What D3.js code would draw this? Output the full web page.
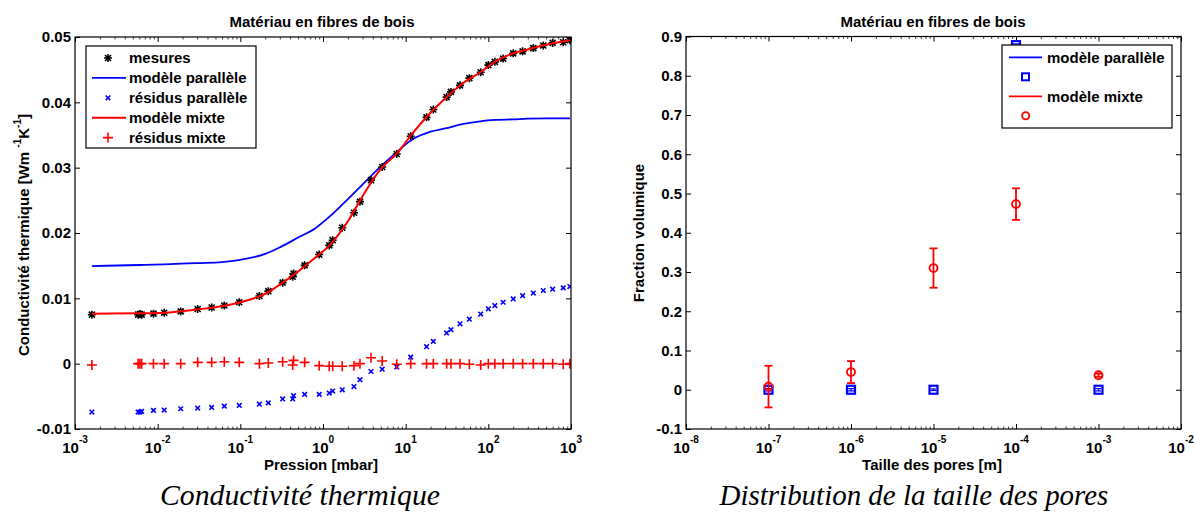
<!DOCTYPE html>
<html><head><meta charset="utf-8">
<script src="https://cdn.jsdelivr.net/npm/d3@7"></script>
<style>
body{margin:0;background:#fff}
svg{display:block}
text{font-family:"Liberation Sans",Arial,sans-serif;font-weight:bold;fill:#000}
</style>
</head><body>
<svg id="c" width="1195" height="513"></svg>
<script>
// ---------- Left chart data ----------
const pressure = [0.0016, 0.0058, 0.0061, 0.0064, 0.0089, 0.012, 0.019, 0.0305, 0.045, 0.064, 0.097, 0.17, 0.218, 0.325, 0.43, 0.44, 0.6, 0.9, 1.19, 1.31, 1.71, 2.37, 2.8, 3.81, 5.2, 7.8, 11.5, 17.9, 21.6, 31.3, 35.3, 45.4, 58.9, 80.8, 100, 120, 151, 200, 260, 350, 462, 600, 805, 970];
const measures = [0.0075, 0.0075, 0.0076, 0.0075, 0.00765, 0.0078, 0.0080, 0.00836, 0.0086, 0.0089, 0.0094, 0.01035, 0.0111, 0.0124, 0.0133, 0.0138, 0.01505, 0.0167, 0.0181, 0.0189, 0.0208, 0.0231, 0.0248, 0.0281, 0.0301, 0.0321, 0.0348, 0.0377, 0.0389, 0.0408, 0.0416, 0.0426, 0.0437, 0.0446, 0.0457, 0.0462, 0.0467, 0.0475, 0.0478, 0.0483, 0.0487, 0.0491, 0.0492, 0.0495];
const residusParallele = [-0.0074, -0.0074, -0.0074, -0.0073, -0.00715, -0.0071, -0.0069, -0.0068, -0.0067, -0.0065, -0.0064, -0.0062, -0.0060, -0.0054, -0.0054, -0.0049, -0.0047, -0.0047, -0.0045, -0.0042, -0.0040, -0.0035, -0.00245, -0.0012, -0.00085, -0.0005, 0.0010, 0.0026, 0.0034, 0.0047, 0.0052, 0.0061, 0.0068, 0.0076, 0.0084, 0.0089, 0.0094, 0.0099, 0.0104, 0.0108, 0.0112, 0.0114, 0.0116, 0.0118];
const residusMixte = [-0.0002, 0, 0, 0, 0, 0, 0, 0.0002, 0.0002, 0.0003, 0.0002, 0, 0.0001, 0.0003, -0.0002, 0.0005, 0.0002, -0.0003, -0.0004, -0.0004, -0.0004, -0.0003, 0, 0.0009, 0.0004, -0.0001, 0, 0, 0, 0, 0, 0, -0.0001, -0.0002, 0, 0, 0, 0, 0, 0, 0, 0, -0.0001, 0];
const modelPressure = [0.0016, 0.006, 0.012, 0.03, 0.06, 0.1, 0.2, 0.3, 0.5, 0.8, 1.2, 2, 3, 5, 8, 12, 20, 30, 50, 80, 120, 200, 300, 500, 970];
const modeleParallele = [0.01494, 0.0151, 0.0152, 0.0154, 0.01555, 0.0159, 0.0168, 0.0178, 0.0193, 0.0207, 0.0225, 0.0252, 0.0274, 0.0302, 0.0325, 0.0343, 0.0355, 0.0360, 0.0367, 0.0371, 0.0373, 0.0374, 0.0375, 0.03755, 0.03755];
const modeleMixte = [0.00765, 0.0077, 0.0078, 0.0083, 0.0088, 0.0094, 0.0107, 0.0121, 0.0141, 0.0162, 0.0181, 0.0218, 0.0256, 0.0298, 0.0323, 0.0352, 0.0384, 0.0406, 0.0430, 0.0446, 0.0462, 0.0475, 0.0481, 0.0488, 0.0495];
const leftYTicks = [-0.01, 0, 0.01, 0.02, 0.03, 0.04, 0.05];
const leftYTickLabels = ["-0.01", "0", "0.01", "0.02", "0.03", "0.04", "0.05"];
const leftXExponents = [-3, -2, -1, 0, 1, 2, 3];
const leftLegend = ["mesures", "modèle parallèle", "résidus parallèle", "modèle mixte", "résidus mixte"];

// ---------- Right chart data ----------
const poreSize = [1e-7, 1e-6, 1e-5, 1e-4, 1e-3];
const fracParallele = [0, 0, 0, 0.878, 0];
const errParallele = [0.003, 0.003, 0.002, 0.003, 0.003];
const fracMixte = [0.008, 0.045, 0.31, 0.473, 0.037];
const errMixte = [0.053, 0.028, 0.05, 0.04, 0.004];
const rightYTicks = [-0.1, 0, 0.1, 0.2, 0.3, 0.4, 0.5, 0.6, 0.7, 0.8, 0.9];
const rightYTickLabels = ["-0.1", "0", "0.1", "0.2", "0.3", "0.4", "0.5", "0.6", "0.7", "0.8", "0.9"];
const rightXExponents = [-8, -7, -6, -5, -4, -3, -2];
const rightLegend = ["modèle parallèle", "", "modèle mixte", ""];

const title = "Matériau en fibres de bois";
const BLUE = "#0000ff", RED = "#ff0000";

const svg = d3.select("#c");
const defs = svg.append("defs");

function minorTicks(exps) {
  const out = [];
  for (let i = 0; i < exps.length - 1; i++)
    for (let k = 2; k <= 9; k++) out.push(k * Math.pow(10, exps[i]));
  return out;
}

function buildAxes(g, x, y, yTicks, yLabels, exps, id) {
  const [x0, x1] = x.range();
  const [y0, y1] = y.range();
  defs.append("clipPath").attr("id", id).append("rect")
    .attr("x", x0).attr("y", y1).attr("width", x1 - x0).attr("height", y0 - y1);
  g.append("rect").attr("x", x0).attr("y", y1).attr("width", x1 - x0).attr("height", y0 - y1)
    .attr("fill", "#fff");
  const majors = exps.map(e => Math.pow(10, e));
  const minors = minorTicks(exps);
  const style = s => {
    s.select(".domain").remove();
    s.selectAll("line").attr("stroke", "#000").attr("stroke-width", 1);
    s.attr("font-family", null).attr("font-size", null);
  };
  g.append("g").attr("transform", `translate(${x0},0)`)
    .call(d3.axisLeft(y).tickValues(yTicks).tickFormat((d, i) => yLabels[i]).tickSizeInner(-5).tickSizeOuter(0).tickPadding(4))
    .call(style).selectAll("text").attr("font-size", 15);
  g.append("g").attr("transform", `translate(${x1},0)`)
    .call(d3.axisRight(y).tickValues(yTicks).tickFormat("").tickSizeInner(-5).tickSizeOuter(0))
    .call(style);
  g.append("g").attr("transform", `translate(0,${y0})`)
    .call(d3.axisBottom(x).tickValues(majors).tickFormat("").tickSizeInner(-5).tickSizeOuter(0)).call(style);
  g.append("g").attr("transform", `translate(0,${y1})`)
    .call(d3.axisTop(x).tickValues(majors).tickFormat("").tickSizeInner(-5).tickSizeOuter(0)).call(style);
  g.append("g").attr("transform", `translate(0,${y0})`)
    .call(d3.axisBottom(x).tickValues(minors).tickFormat("").tickSizeInner(-2.5).tickSizeOuter(0)).call(style)
    .selectAll("line").attr("stroke", "#444");
  g.append("g").attr("transform", `translate(0,${y1})`)
    .call(d3.axisTop(x).tickValues(minors).tickFormat("").tickSizeInner(-2.5).tickSizeOuter(0)).call(style)
    .selectAll("line").attr("stroke", "#444");
  exps.forEach(e => {
    const t = g.append("text").attr("x", x(Math.pow(10, e))).attr("y", y0 + 23.5)
      .attr("text-anchor", "middle").attr("font-size", 15);
    t.append("tspan").text("10");
    t.append("tspan").attr("font-size", 10).attr("dy", -9.5).text(String(e));
  });
}

function frame(g, x, y) {
  const [x0, x1] = x.range();
  const [y0, y1] = y.range();
  g.append("rect").attr("x", x0).attr("y", y1).attr("width", x1 - x0).attr("height", y0 - y1)
    .attr("fill", "none").attr("stroke", "#000").attr("stroke-width", 1.2);
}

const starPath = "M-4,0H4M0,-4V4M-3,-3L3,3M-3,3L3,-3";
const xPath = "M-2.3,-2.3L2.3,2.3M-2.3,2.3L2.3,-2.3";
const plusPath = "M-5,0H5M0,-5V5";

// ================= LEFT CHART =================
{
  const x = d3.scaleLog().domain([1e-3, 1e3]).range([75, 571]);
  const y = d3.scaleLinear().domain([-0.01, 0.05]).range([429, 37]);
  const g = svg.append("g");
  buildAxes(g, x, y, leftYTicks, leftYTickLabels, leftXExponents, "clipL");
  const plot = g.append("g").attr("clip-path", "url(#clipL)");
  const line = d3.line().x(d => x(d[0])).y(d => y(d[1])).curve(d3.curveMonotoneX);
  plot.append("path").datum(modelPressure.map((p, i) => [p, modeleParallele[i]]))
    .attr("d", line).attr("fill", "none").attr("stroke", BLUE).attr("stroke-width", 1.8);
  plot.selectAll(".rp").data(pressure).join("path")
    .attr("transform", (p, i) => `translate(${x(p)},${y(residusParallele[i])})`)
    .attr("d", xPath).attr("stroke", BLUE).attr("stroke-width", 1.6).attr("fill", "none");
  plot.selectAll(".ms").data(pressure).join("path")
    .attr("transform", (p, i) => `translate(${x(p)},${y(measures[i])})`)
    .attr("d", starPath).attr("stroke", "#000").attr("stroke-width", 1.6).attr("fill", "none");
  plot.append("path").datum(modelPressure.map((p, i) => [p, modeleMixte[i]]))
    .attr("d", line).attr("fill", "none").attr("stroke", RED).attr("stroke-width", 2);
  plot.selectAll(".rm").data(pressure).join("path")
    .attr("transform", (p, i) => `translate(${x(p)},${y(residusMixte[i])})`)
    .attr("d", plusPath).attr("stroke", RED).attr("stroke-width", 1.6).attr("fill", "none");
  frame(g, x, y);

  const lg = g.append("g");
  lg.append("rect").attr("x", 86).attr("y", 46).attr("width", 170).attr("height", 102)
    .attr("fill", "#fff").attr("stroke", "#000").attr("stroke-width", 1.2);
  leftLegend.forEach((lab, i) => {
    const cy = 58 + i * 19.9;
    if (i === 0) lg.append("path").attr("transform", `translate(108,${cy})`).attr("d", starPath).attr("stroke", "#000").attr("stroke-width", 1.6);
    if (i === 1) lg.append("line").attr("x1", 92).attr("x2", 126).attr("y1", cy).attr("y2", cy).attr("stroke", BLUE).attr("stroke-width", 1.8);
    if (i === 2) lg.append("path").attr("transform", `translate(108,${cy})`).attr("d", xPath).attr("stroke", BLUE).attr("stroke-width", 1.6);
    if (i === 3) lg.append("line").attr("x1", 92).attr("x2", 126).attr("y1", cy).attr("y2", cy).attr("stroke", RED).attr("stroke-width", 2);
    if (i === 4) lg.append("path").attr("transform", `translate(108,${cy})`).attr("d", plusPath).attr("stroke", RED).attr("stroke-width", 1.6);
    lg.append("text").attr("x", 129).attr("y", cy + 5.3).attr("font-size", 15).text(lab);
  });

  g.append("text").attr("x", 322).attr("y", 26.5).attr("text-anchor", "middle").attr("font-size", 15).text(title);
  g.append("text").attr("x", 321).attr("y", 469.5).attr("text-anchor", "middle").attr("font-size", 15).text("Pression [mbar]");
  const yl = g.append("text").attr("transform", "translate(29,235) rotate(-90)").attr("text-anchor", "middle").attr("font-size", 15);
  yl.append("tspan").text("Conductivité thermique [Wm ");
  yl.append("tspan").attr("font-size", 10).attr("dy", -8).text("-1");
  yl.append("tspan").attr("dy", 8).text("K");
  yl.append("tspan").attr("font-size", 10).attr("dy", -8).text("-1");
  yl.append("tspan").attr("dy", 8).text("]");
}

// ================= RIGHT CHART =================
{
  const x = d3.scaleLog().domain([1e-8, 1e-2]).range([686, 1181]);
  const y = d3.scaleLinear().domain([-0.1, 0.9]).range([429, 36.5]);
  const g = svg.append("g");
  buildAxes(g, x, y, rightYTicks, rightYTickLabels, rightXExponents, "clipR");
  const plot = g.append("g").attr("clip-path", "url(#clipR)");
  poreSize.forEach((s, i) => {
    const cx = x(s), v = fracParallele[i], e = errParallele[i];
    plot.append("line").attr("x1", cx).attr("x2", cx).attr("y1", y(v - e)).attr("y2", y(v + e)).attr("stroke", BLUE).attr("stroke-width", 1.4);
    [v - e, v + e].forEach(w => plot.append("line").attr("x1", cx - 3).attr("x2", cx + 3).attr("y1", y(w)).attr("y2", y(w)).attr("stroke", BLUE).attr("stroke-width", 1.2));
    plot.append("rect").attr("x", cx - 4).attr("y", y(v) - 4).attr("width", 8).attr("height", 8)
      .attr("fill", "none").attr("stroke", BLUE).attr("stroke-width", 2.2);
  });
  poreSize.forEach((s, i) => {
    const cx = x(s), v = fracMixte[i], e = errMixte[i];
    plot.append("line").attr("x1", cx).attr("x2", cx).attr("y1", y(v - e)).attr("y2", y(v + e)).attr("stroke", RED).attr("stroke-width", 1.8);
    [v - e, v + e].forEach(w => plot.append("line").attr("x1", cx - 4).attr("x2", cx + 4).attr("y1", y(w)).attr("y2", y(w)).attr("stroke", RED).attr("stroke-width", 1.8));
    plot.append("circle").attr("cx", cx).attr("cy", y(v)).attr("r", 4)
      .attr("fill", "none").attr("stroke", RED).attr("stroke-width", 1.8);
  });
  frame(g, x, y);

  const lg = g.append("g");
  lg.append("rect").attr("x", 1002).attr("y", 45).attr("width", 170).attr("height", 83)
    .attr("fill", "#fff").attr("stroke", "#000").attr("stroke-width", 1.2);
  rightLegend.forEach((lab, i) => {
    const cy = 57.3 + i * 19.5;
    if (i === 0) lg.append("line").attr("x1", 1009).attr("x2", 1042).attr("y1", cy).attr("y2", cy).attr("stroke", BLUE).attr("stroke-width", 1.8);
    if (i === 1) lg.append("rect").attr("x", 1022).attr("y", cy - 3.5).attr("width", 7).attr("height", 7).attr("fill", "none").attr("stroke", BLUE).attr("stroke-width", 2);
    if (i === 2) lg.append("line").attr("x1", 1009).attr("x2", 1042).attr("y1", cy).attr("y2", cy).attr("stroke", RED).attr("stroke-width", 1.8);
    if (i === 3) lg.append("circle").attr("cx", 1025.7).attr("cy", cy).attr("r", 3.6).attr("fill", "none").attr("stroke", RED).attr("stroke-width", 1.8);
    if (lab) lg.append("text").attr("x", 1047).attr("y", cy + 5.3).attr("font-size", 15).text(lab);
  });

  g.append("text").attr("x", 933).attr("y", 26.5).attr("text-anchor", "middle").attr("font-size", 15).text(title);
  g.append("text").attr("x", 932).attr("y", 469.5).attr("text-anchor", "middle").attr("font-size", 15).text("Taille des pores [m]");
  g.append("text").attr("transform", "translate(644,233) rotate(-90)").attr("text-anchor", "middle").attr("font-size", 15).text("Fraction volumique");
}

// ================= CAPTIONS =================
function caption(txt, cx, w) {
  const t = svg.append("text").attr("x", cx).attr("y", 505).attr("text-anchor", "middle")
    .style("font-family", '"Liberation Serif","DejaVu Serif",serif').style("font-style", "italic").style("font-weight", "normal")
    .attr("font-size", 26).text(txt);
  const L = t.node().getComputedTextLength();
  t.attr("font-size", 26 * w / L);
}
caption("Conductivité thermique", 300, 280);
caption("Distribution de la taille des pores", 914, 389);
</script>
</body></html>
